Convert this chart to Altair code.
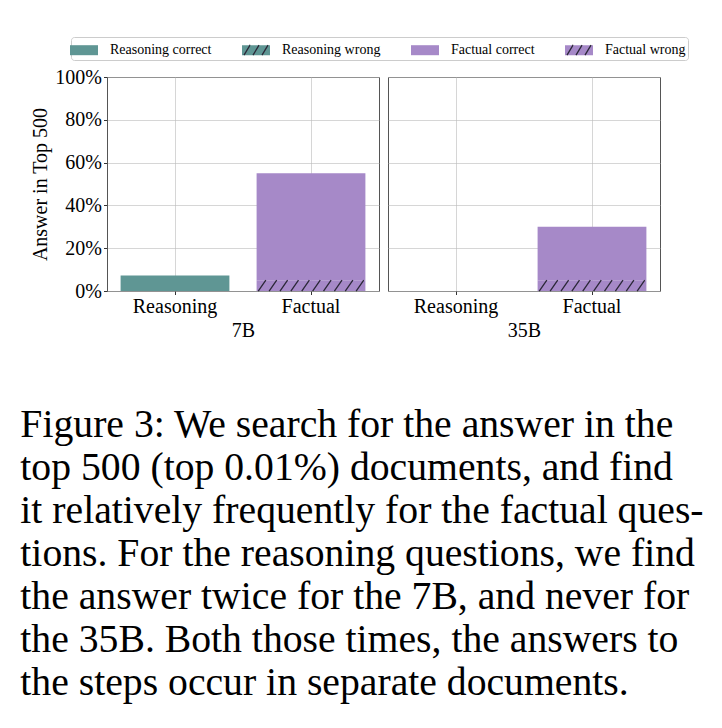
import altair as alt
import pandas as pd

# ---------------- data ----------------
models = ["7B", "35B"]
categories = ["Reasoning", "Factual"]
series_names = ["Reasoning correct", "Reasoning wrong", "Factual correct", "Factual wrong"]
reasoning_correct = [0.072, 0.0]
reasoning_wrong = [0.0, 0.0]
factual_correct = [0.50, 0.25]
factual_wrong = [0.05, 0.05]
y_ticks = [0, 0.2, 0.4, 0.6, 0.8, 1.0]
caption_lines = [
    "Figure 3:  We search for the answer in the",
    "top 500 (top 0.01%) documents, and find",
    "it relatively frequently for the factual ques-",
    "tions. For the reasoning questions, we find",
    "the answer twice for the 7B, and never for",
    "the 35B. Both those times, the answers to",
    "the steps occur in separate documents.",
]

rows = []
for i, m in enumerate(models):
    for name, cat, status, vals in [
        ("Reasoning correct", "Reasoning", "correct", reasoning_correct),
        ("Reasoning wrong", "Reasoning", "wrong", reasoning_wrong),
        ("Factual correct", "Factual", "correct", factual_correct),
        ("Factual wrong", "Factual", "wrong", factual_wrong),
    ]:
        rows.append({"model": m, "category": cat, "series": name,
                     "status": status, "rank": 0 if status == "wrong" else 1,
                     "value": vals[i]})
df = pd.DataFrame(rows)

# ---------------- style ----------------
TEAL = "#5f9694"
PURPLE = "#a689c8"
HATCH = "#2b2838"
FONT = "Liberation Serif"
PANEL_W, PANEL_H = 272, 214


def hatch_lines(n, half_h, dx, start, step):
    return ["M{:.3f},{:.3f}L{:.3f},{:.3f}".format(start + step * k, half_h,
                                                  start + step * k + dx, -half_h)
            for k in range(n)]


# hatch drawn over the "wrong" part of a bar (unit coords, scaled by bar width)
BAR_HATCH = "".join(hatch_lines(10, 0.1, 0.14, -0.97, 0.2))

# legend swatches: 28 x 10 px rectangles (nominal symbol 20 px, path spans +-1.4)
HW, HH = 1.4, 0.5
LEG_RECT = f"M{-HW},{-HH}H{HW}V{HH}H{-HW}Z"
_lines = hatch_lines(3, HH, 0.6, -1.2, 0.9)
_x0, _x1 = -1.2, -0.6
# first hatch line is the start of the filled rectangle outline; a stroke dash
# that only covers that first segment leaves the outline itself unstroked
LEG_HATCH = (f"M{_x0},{HH}L{_x1},{-HH}H{HW}V{HH}H{-HW}V{-HH}H{_x1}Z" + "".join(_lines[1:]))
DASH = [11.8, 1000]


def legend_params():
    return alt.Legend(
        orient="none", legendX=-36, legendY=-40, direction="horizontal",
        columns=4, title=None, symbolSize=400, labelFont=FONT, labelFontSize=14,
        labelColor="black", labelOffset=15, columnPadding=27, padding=2,
        labelLimit=300, strokeColor="#cccccc", fillColor="white", cornerRadius=3,
        symbolStrokeWidth=1.3, symbolDash=DASH, symbolOpacity=1,
    )


fill_scale = alt.Scale(domain=series_names, range=[TEAL, TEAL, PURPLE, PURPLE])


def panel(model, first):
    base = alt.Chart(df).transform_filter(alt.datum.model == model)
    x_axis = alt.Axis(title=model, labelAngle=0, bandPosition=0.5, grid=True,
                      ticks=True, domain=False)
    if first:
        y_axis = alt.Axis(title="Answer in Top 500", format=".0%", values=y_ticks,
                          grid=True, domain=False)
    else:
        y_axis = alt.Axis(title=None, labels=False, ticks=False, values=y_ticks,
                          grid=True, domain=False)
    xs = alt.Scale(paddingInner=0, paddingOuter=0)
    ys = alt.Scale(domain=[0, 1])

    def xenc():
        return alt.X("category:N", sort=categories, scale=xs, axis=x_axis)

    bars = base.mark_bar(width=alt.RelativeBandSize(0.8)).encode(
        x=xenc(),
        y=alt.Y("value:Q", stack="zero", scale=ys, axis=y_axis),
        fill=alt.Fill("series:N", scale=fill_scale, legend=None),
        order=alt.Order("rank:Q"),
    )
    hatch = base.transform_filter(
        "datum.status == 'wrong' && datum.value > 0"
    ).transform_calculate(mid="datum.value / 2").mark_point(
        shape=BAR_HATCH, size=108.8 ** 2, filled=False, stroke=HATCH,
        strokeWidth=1.3, opacity=1,
    ).encode(x=xenc(), y=alt.Y("mid:Q", scale=ys, axis=y_axis))
    layers = [bars, hatch]
    if first:
        # legend carrier: its points lie outside the plot and are clipped away
        dummy = base.transform_calculate(off="5").mark_point(
            filled=True, clip=True, strokeWidth=1.3, strokeDash=DASH, opacity=1, size=400,
        ).encode(
            x=xenc(),
            y=alt.Y("off:Q", scale=ys, axis=y_axis),
            fill=alt.Fill("series:N", scale=fill_scale, legend=legend_params()),
            shape=alt.Shape("series:N", scale=alt.Scale(
                domain=series_names, range=[LEG_RECT, LEG_HATCH, LEG_RECT, LEG_HATCH]),
                legend=legend_params()),
            stroke=alt.Stroke("series:N", scale=alt.Scale(
                domain=series_names, range=["transparent", HATCH, "transparent", HATCH]),
                legend=legend_params()),
        )
        layers = [dummy] + layers
    return alt.layer(*layers).properties(width=PANEL_W, height=PANEL_H)


chart = alt.hconcat(panel("7B", True), panel("35B", False), spacing=7).resolve_scale(
    fill="shared", shape="shared", stroke="shared"
).properties(
    title=alt.TitleParams(
        text=caption_lines, orient="bottom", anchor="start", font=FONT,
        fontSize=39.7, fontWeight="normal", lineHeight=43, color="black",
        offset=65, dx=-10, baseline="top",
    ),
    padding={"left": 20, "top": 36, "right": 10, "bottom": 10},
    background="white",
).configure_view(
    stroke="#555555", strokeWidth=1,
).configure_axis(
    labelFont=FONT, labelFontSize=20, labelColor="black", titleFont=FONT,
    titleFontSize=20, titleFontWeight="normal", titleColor="black",
    tickColor="#333333", tickSize=3.5, labelPadding=2, titlePadding=4,
    gridColor="#bbbbbb", gridOpacity=0.6, gridWidth=1, zindex=1,
)

chart.save("out.html", embed_options={"renderer": "svg", "actions": False})
